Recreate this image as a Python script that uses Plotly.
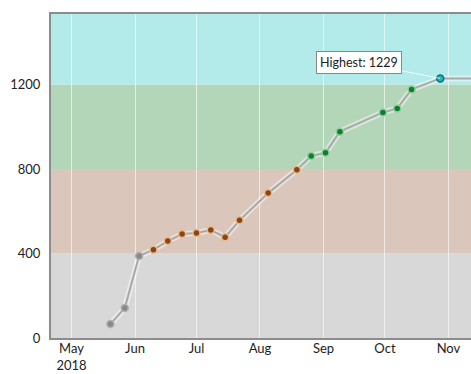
import plotly.graph_objects as go

dates = ["2018-05-20", "2018-05-27", "2018-06-03", "2018-06-10", "2018-06-17", "2018-06-24",
         "2018-07-01", "2018-07-08", "2018-07-15", "2018-07-22", "2018-08-05", "2018-08-19",
         "2018-08-26", "2018-09-02", "2018-09-09", "2018-09-30", "2018-10-07", "2018-10-14",
         "2018-10-28", "2018-11-18"]
values = [66, 142, 388, 418, 459, 492, 497, 511, 477, 557, 686, 797,
          862, 877, 977, 1068, 1087, 1177, 1229, 1229]

band_edges = [0, 400, 800, 1200, 1600]
band_colors = ["#d8d8d8", "#dac6ba", "#b3d6b8", "#b3eaea"]
marker_fills = ["#888888", "#8a4510", "#0f7f2f", "#1fb3b8"]
marker_edges = ["#b0b0b0", "#e8b890", "#8fd09f", "#14707a"]

tick_vals = ["2018-05-01", "2018-06-01", "2018-07-01", "2018-08-01", "2018-09-01", "2018-10-01", "2018-11-01"]
tick_text = ["May<br>2018", "Jun", "Jul", "Aug", "Sep", "Oct", "Nov"]
y_ticks = [0, 400, 800, 1200]


def band_index(v):
    for i in range(len(band_edges) - 1):
        if v < band_edges[i + 1]:
            return i
    return len(band_edges) - 2


fills = [marker_fills[band_index(v)] for v in values]
edges = [marker_edges[band_index(v)] for v in values]

fig = go.Figure()

shapes = []
for i, c in enumerate(band_colors):
    shapes.append(dict(type="rect", xref="paper", yref="y", x0=0, x1=1,
                       y0=band_edges[i], y1=band_edges[i + 1],
                       fillcolor=c, line=dict(width=0), layer="below"))

fig.add_trace(go.Scatter(x=dates, y=values, mode="lines",
                         line=dict(color="rgba(255,255,255,0.45)", width=6),
                         hoverinfo="skip", showlegend=False))
fig.add_trace(go.Scatter(x=dates, y=values, mode="lines+markers",
                         line=dict(color="#a8a8a8", width=2),
                         marker=dict(size=7, color=fills, line=dict(color=edges, width=1.5)),
                         showlegend=False))

imax = values.index(max(values))
fig.add_annotation(x=dates[imax], y=values[imax], xref="x", yref="y",
                   text="Highest: %d" % values[imax], showarrow=True,
                   ax=-81, ay=-16, arrowhead=0, arrowwidth=1,
                   arrowcolor="rgba(255,255,255,0.8)",
                   bgcolor="white", bordercolor="#888888", borderwidth=1, borderpad=3,
                   font=dict(family="Lato, sans-serif", size=12.5, color="#222222"))

fig.update_layout(
    width=471, height=374,
    margin=dict(l=51, r=0, t=14, b=36),
    paper_bgcolor="white", plot_bgcolor="white",
    shapes=shapes,
    font=dict(family="Lato, sans-serif", size=13, color="#222222"),
    xaxis=dict(type="date", range=["2018-04-21", "2018-11-12"],
               tickvals=tick_vals, ticktext=tick_text,
               showgrid=True, gridcolor="rgba(255,255,255,0.6)", gridwidth=1,
               showline=True, linecolor="#8c8c8c", linewidth=2, mirror=True,
               ticks="", ticklabelstandoff=-3, zeroline=False, tickfont=dict(size=13)),
    yaxis=dict(range=[0, 1534], tickvals=y_ticks, showgrid=False,
               showline=True, linecolor="#8c8c8c", linewidth=2,
               ticks="", ticklabelstandoff=6, zeroline=False, tickfont=dict(size=13)),
)

fig.write_html("out.html", config={"displayModeBar": False},
               post_script="document.body.style.margin='0';")
